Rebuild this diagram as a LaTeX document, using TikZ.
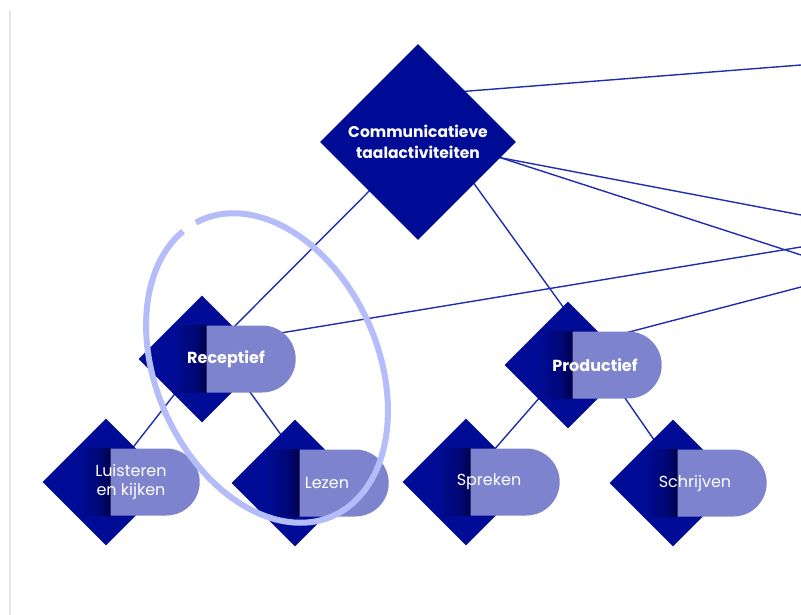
\documentclass[tikz,border=0pt]{standalone}
\usepackage{fontspec}
\setmainfont{Poppins}
\usetikzlibrary{trees,shapes.geometric,shapes.misc,backgrounds}

\definecolor{diablue}{HTML}{000C96}
\definecolor{pillblue}{HTML}{7D84CD}
\definecolor{linkblue}{HTML}{1F2DAF}
\definecolor{ringblue}{HTML}{B4BCFA}
\definecolor{shadowblue}{HTML}{000048}
\definecolor{rulegray}{HTML}{E6E6E6}

\pgfdeclarehorizontalshading{pillshadow}{100bp}{
  color(0bp)=(diablue); color(25bp)=(diablue);
  color(60bp)=(diablue!55!shadowblue); color(75bp)=(shadowblue);
  color(100bp)=(shadowblue)}

\tikzset{
  dia/.style={diamond, fill=diablue, inner sep=0pt, minimum size=127pt},
  topdia/.style={dia, minimum size=196pt, text=white, align=center,
    font=\fontsize{15.5}{21}\selectfont\bfseries},
  pillbox/.style={rounded rectangle, rounded rectangle west arc=none,
    fill=pillblue, inner sep=0pt, minimum width=89pt, minimum height=67pt},
  lbl/.style={text=white, align=center, font=\fontsize{16}{19}\selectfont},
  lblb/.style={lbl, font=\fontsize{16}{19}\selectfont\bfseries},
  wire/.style={draw=linkblue, line width=1.4pt},
}

\begin{document}
\begin{tikzpicture}[x=1pt, y=-1pt,
  grow via three points={one child at (0,220) and
  two children at (-216,217) and (150,223)},
  level 2/.style={grow via three points={one child at (0,123) and
  two children at (-96,123) and (93,124)}},
  prodkids/.style={grow via three points={one child at (0,117) and
  two children at (-102,117) and (105,118)}},
  edge from parent/.style={draw=none}]
  \useasboundingbox (0,0) rectangle (801,615);
  \draw[rulegray, line width=2pt] (10,11) -- (10,615);

  \node[topdia] (ta) at (418,142) {Communicatieve\\taalactiviteiten}
    child { node[dia] (rec) {}
      child { node[dia] (luis) {}}
      child { node[dia] (lez) {}}
    }
    child { node[dia] (prod) {}
      child[prodkids] { node[dia] (spr) {}}
      child[prodkids] { node[dia] (schr) {}}
    };

  % lijnen naar buiten beeld
  \coordinate (outa) at (801,65);
  \coordinate (outb) at (801,215);
  \coordinate (outc) at (801,255);
  \coordinate (outd) at (801,247);
  \coordinate (oute) at (801,287);
  \begin{scope}[on background layer]
    \draw[wire] (ta.center) -- (rec.center);
    \draw[wire] ([xshift=26pt]ta.center) -- ([xshift=37pt]prod.center);
    \draw[wire] (rec.center) -- (luis.center);
    \draw[wire] ([xshift=24pt]rec.center) -- ([xshift=21pt]lez.center);
    \draw[wire] (prod.center) -- (spr.center);
    \draw[wire] ([xshift=34pt]prod.center) -- ([xshift=11pt]schr.center);
    \draw[wire] ([yshift=47pt]ta.center) -- (outa);
    \draw[wire] (ta.center) -- (outb);
    \draw[wire] ([yshift=11pt]ta.center) -- (outc);
    \draw[wire] ([yshift=13pt]rec.center) -- (outd);
    \draw[wire] ([yshift=17pt]prod.center) -- (oute);
  \end{scope}

  \foreach \n in {rec,prod,luis,lez,spr,schr}{
    \begin{scope}
      \clip (\n.north) -- (\n.east) -- (\n.south) -- (\n.west) -- cycle;
      \shade[shading=pillshadow]
        ([shift={(-30,-33.5)}]\n.center) rectangle ([shift={(4.5,33.5)}]\n.center);
    \end{scope}
    \node[pillbox, anchor=west] (\n-pill) at ([xshift=4.5pt]\n.center) {};
  }

  \node[lblb] (rec-txt) at ([xshift=24pt]rec.center) {Receptief};
  \node[lblb] (prod-txt) at ([xshift=27pt]prod.center) {Productief};
  \node[lbl] (luis-txt) at ([xshift=25pt]luis.center) {Luisteren\\en kijken};
  \node[lbl] (lez-txt) at ([xshift=32pt]lez.center) {Lezen};
  \node[lbl] (spr-txt) at ([xshift=23pt]spr.center) {Spreken};
  \node[lbl] (schr-txt) at ([xshift=22pt]schr.center) {Schrijven};

  % markering
  \begin{scope}[shift={(267,368)}, rotate=24]
    \draw[ringblue, line width=6pt] (101:111pt and 162pt)
      arc[start angle=101, end angle=453, x radius=111pt, y radius=162pt];
  \end{scope}
\end{tikzpicture}
\end{document}
